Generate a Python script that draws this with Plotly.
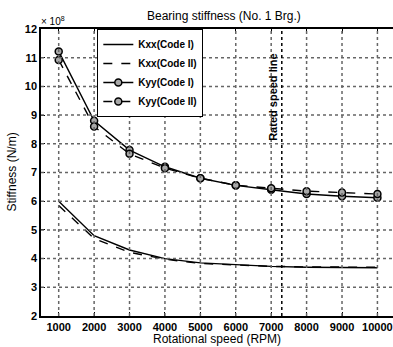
import plotly.graph_objects as go

# Rotational speed (RPM)
speed = [1000, 2000, 3000, 4000, 5000, 6000, 7000, 8000, 9000, 10000]

# Bearing stiffness, in units of 1e8 N/m
kxx_code1 = [6.00, 4.80, 4.30, 4.00, 3.85, 3.78, 3.73, 3.70, 3.68, 3.68]
kxx_code2 = [5.85, 4.70, 4.22, 3.98, 3.83, 3.77, 3.73, 3.71, 3.70, 3.70]
kyy_code1 = [11.22, 8.80, 7.78, 7.20, 6.80, 6.55, 6.40, 6.25, 6.17, 6.12]
kyy_code2 = [10.92, 8.60, 7.65, 7.15, 6.80, 6.56, 6.45, 6.35, 6.30, 6.25]

rated_speed = 7300
x_ticks = [1000, 2000, 3000, 4000, 5000, 6000, 7000, 8000, 9000, 10000]
x_tick_text = [str(v) for v in x_ticks]
y_ticks = [2, 3, 4, 5, 6, 7, 8, 9, 10, 11, 12]

FONT = "Liberation Sans, Arial, sans-serif"
GRID = "#666666"

fig = go.Figure()

line_w = 1.4
marker_style = dict(symbol="circle", size=7, color="#a8a8a8",
                    line=dict(color="black", width=1.5))

fig.add_trace(go.Scatter(x=speed, y=kxx_code1, mode="lines", name="Kxx(Code I)",
                         line=dict(color="black", width=line_w)))
fig.add_trace(go.Scatter(x=speed, y=kxx_code2, mode="lines", name="Kxx(Code II)",
                         line=dict(color="black", width=line_w, dash="dash")))
fig.add_trace(go.Scatter(x=speed, y=kyy_code1, mode="lines+markers", name="Kyy(Code I)",
                         line=dict(color="black", width=line_w), marker=marker_style))
fig.add_trace(go.Scatter(x=speed, y=kyy_code2, mode="lines+markers", name="Kyy(Code II)",
                         line=dict(color="black", width=line_w, dash="dash"),
                         marker=marker_style))

# Dotted grid at every tick position
for xv in x_ticks:
    fig.add_shape(type="line", x0=xv, x1=xv, y0=2, y1=12, xref="x", yref="y",
                  line=dict(color=GRID, width=1.5, dash="dot"), layer="above")
for yv in y_ticks[1:-1]:
    fig.add_shape(type="line", x0=500, x1=10440, y0=yv, y1=yv, xref="x", yref="y",
                  line=dict(color=GRID, width=1.5, dash="dot"), layer="above")

# Rated speed marker line
fig.add_shape(type="line", x0=rated_speed, x1=rated_speed, y0=2, y1=12,
              xref="x", yref="y", line=dict(color="black", width=1.5, dash="dot"),
              layer="above")
fig.add_annotation(x=rated_speed, y=9.63, xref="x", yref="y", text="Rated speed line",
                   textangle=-90, showarrow=False, xanchor="right", xshift=-1,
                   font=dict(family=FONT, size=11, color="black", weight="bold"))

tickfont = dict(family=FONT, size=11, color="black", weight="bold")

fig.update_layout(
    template="none",
    width=393, height=347,
    margin=dict(l=41, r=0, t=29, b=31),
    paper_bgcolor="white", plot_bgcolor="white",
    showlegend=True,
    xaxis=dict(range=[500, 10440], tickmode="array", tickvals=x_ticks,
               ticktext=x_tick_text, ticks="inside", ticklen=4, tickcolor="black",
               showline=True, linecolor="black", linewidth=1.5, mirror="ticks",
               zeroline=False, automargin=False, tickfont=tickfont, showgrid=False),
    yaxis=dict(range=[2, 12], tickmode="array", tickvals=y_ticks, ticks="inside",
               ticklen=4, tickcolor="black", showline=True, linecolor="black",
               linewidth=1.5, zeroline=False, automargin=False, tickfont=tickfont,
               showgrid=False),
    legend=dict(x=0.16, y=1, xanchor="left", yanchor="top",
                bgcolor="white", bordercolor="black", borderwidth=1,
                font=dict(family=FONT, size=10, color="black", weight="bold"),
                tracegroupgap=0, itemwidth=30),
)

fig.add_annotation(x=0.5, y=0, xref="paper", yref="paper", yshift=-14,
                   text="Rotational speed (RPM)", showarrow=False, yanchor="top",
                   font=dict(family=FONT, size=12, color="black"))
fig.add_annotation(x=0, y=0.5, xref="paper", yref="paper", xshift=-21,
                   text="Stiffness (N/m)", showarrow=False, textangle=-90,
                   xanchor="right", font=dict(family=FONT, size=12, color="black"))
fig.add_annotation(x=0, y=1, xref="paper", yref="paper", xshift=-2,
                   text="× 10<sup>8</sup>", showarrow=False, xanchor="left",
                   yanchor="bottom", font=dict(family=FONT, size=10, color="black"))
fig.add_annotation(x=0.52, y=1, xref="paper", yref="paper", yshift=4,
                   text="Bearing stiffness (No. 1 Brg.)", showarrow=False,
                   yanchor="bottom", font=dict(family=FONT, size=12, color="black"))

fig.write_html("out.html")
